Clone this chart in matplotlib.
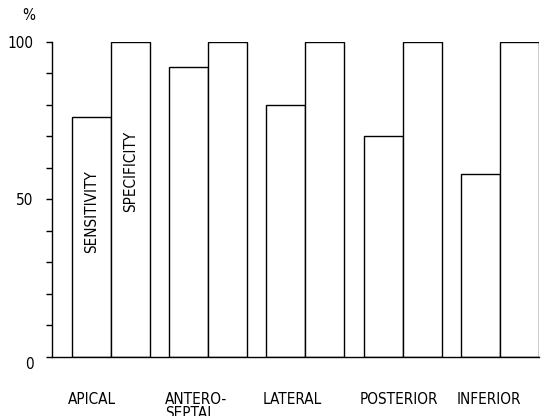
import matplotlib
matplotlib.use("Agg")
import matplotlib.pyplot as plt
import numpy as np

regions = ["APICAL", "ANTERO-\nSEPTAL", "LATERAL", "POSTERIOR", "INFERIOR"]
sensitivity = [76, 92, 80, 70, 58]
specificity = [100, 100, 100, 100, 100]

plt.rcParams["font.family"] = ["DejaVu Sans"]
plt.rcParams["font.stretch"] = "condensed"

fig = plt.figure(figsize=(5.48, 4.16), dpi=100)
ax = fig.add_axes([51.7 / 548, 59 / 416, (539 - 51.7) / 548, (357 - 41.7) / 416])

x = np.arange(len(regions))
w = 0.4
ax.bar(x - w / 2, sensitivity, width=w, facecolor="white", edgecolor="black", linewidth=1.0)
ax.bar(x + w / 2, specificity, width=w, facecolor="white", edgecolor="black", linewidth=1.0)

ax.set_xlim(-0.606, 4.402)
ax.set_ylim(0, 100)

for side in ("top", "right"):
    ax.spines[side].set_visible(False)
for side in ("left", "bottom"):
    ax.spines[side].set_linewidth(1.0)

ax.set_yticks([0, 50, 100])
ax.set_yticklabels(["0", "50", "100"], fontsize=11)
ax.set_yticks(np.arange(0, 101, 10), minor=True)
ax.tick_params(axis="y", which="both", direction="out", length=4, width=1.0, pad=9)
ax.get_yticklabels()[0].set_verticalalignment("top")

ax.set_xticks(x - w - 0.04)
ax.set_xticklabels(regions, fontsize=11, ha="left", linespacing=0.95)
ax.tick_params(axis="x", length=0, pad=25)

# labels written inside the first pair of bars
ax.text(-w / 2, 46, "SENSITIVITY", rotation=90, ha="center", va="center", fontsize=11)
ax.text(w / 2, 59, "SPECIFICITY", rotation=90, ha="center", va="center", fontsize=11)

fig.text(22 / 548, 1 - 16 / 416, "%", fontsize=11, ha="left", va="center")

fig.savefig("out.png", dpi=100, facecolor="white")
